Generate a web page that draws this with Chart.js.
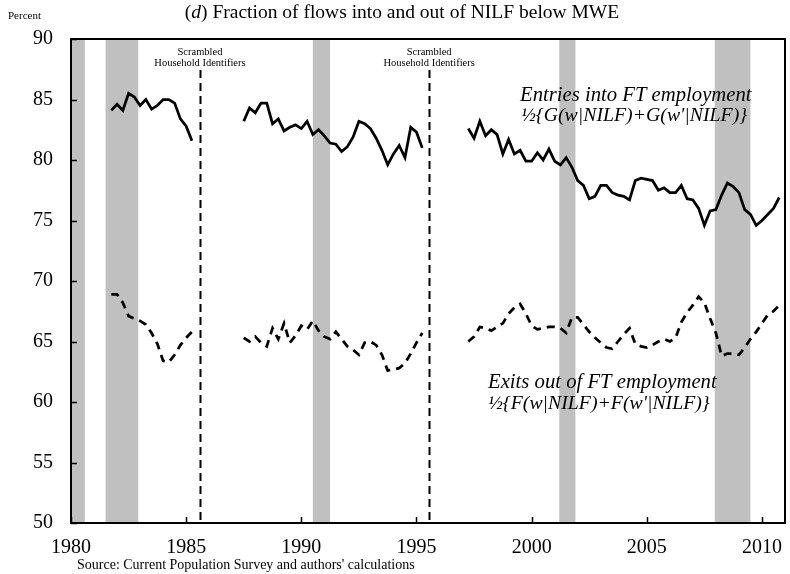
<!DOCTYPE html>
<html>
<head>
<meta charset="utf-8">
<script src="https://cdn.jsdelivr.net/npm/chart.js@4/dist/chart.umd.min.js"></script>
<style>
  html, body { margin: 0; padding: 0; background: #fff; }
  #wrap { width: 790px; height: 574px; }
</style>
</head>
<body>
<div id="wrap"><canvas id="c" width="790" height="574"></canvas></div>
<script>
// Quarterly series, three spans separated by the household-identifier breaks
const segmentStarts = [1981.75, 1987.5, 1997.25];

// Entries into FT employment, percent below MWE
const entries8185 = [84.1, 84.6, 84.1, 85.5, 85.2, 84.5, 85.0, 84.2, 84.5, 85.0, 85.0, 84.7, 83.4, 82.8, 81.6];
const entries8795 = [83.2, 84.3, 83.9, 84.7, 84.7, 83.0, 83.4, 82.4, 82.7, 82.9, 82.6, 83.2, 82.1, 82.5, 82.0, 81.4,
                     81.3, 80.7, 81.1, 81.9, 83.2, 83.0, 82.6, 81.8, 80.8, 79.6, 80.5, 81.2, 80.2, 82.7, 82.3, 81.0];
const entries9710 = [82.6, 81.8, 83.2, 82.0, 82.5, 82.1, 80.5, 81.7, 80.5, 80.8, 79.9, 79.9, 80.6, 80.0, 80.9, 79.9,
                     79.6, 80.2, 79.4, 78.3, 77.9, 76.8, 77.0, 77.9, 77.9, 77.3, 77.1, 77.0, 76.7, 78.3, 78.5, 78.4,
                     78.3, 77.5, 77.7, 77.3, 77.3, 77.9, 76.8, 76.7, 76.0, 74.6, 75.8, 75.9, 77.1, 78.1, 77.8, 77.3,
                     75.9, 75.5, 74.6, 75.0, 75.5, 76.0, 76.9];

// Exits out of FT employment, percent below MWE
const exits8185 = [68.9, 68.9, 68.2, 67.1, 66.9, 66.7, 66.4, 65.7, 64.8, 63.4, 63.3, 63.9, 64.7, 65.3, 65.8];
const exits8795 = [65.3, 65.0, 65.4, 64.9, 64.6, 66.1, 65.2, 66.5, 64.9, 65.5, 66.3, 66.0, 66.7, 65.9, 65.4, 65.2,
                   65.8, 65.2, 64.6, 64.3, 63.9, 64.9, 65.0, 64.7, 63.9, 62.6, 62.7, 62.8, 63.2, 64.0, 64.9, 65.7];
const exits9710 = [65.0, 65.4, 66.2, 66.1, 65.9, 66.2, 66.5, 67.3, 67.8, 68.1, 67.3, 66.3, 66.0, 66.1, 66.2, 66.2,
                   66.1, 65.7, 67.0, 67.0, 66.4, 65.8, 65.3, 64.9, 64.5, 64.4, 65.0, 65.6, 66.1, 64.8, 64.6, 64.5,
                   64.7, 65.0, 65.2, 65.0, 65.3, 66.6, 67.4, 68.0, 68.7, 68.2, 66.9, 65.7, 63.8, 64.0, 64.0, 63.9,
                   64.5, 65.2, 65.8, 66.5, 67.2, 67.5, 68.0];

// NBER recessions (start, end in fractional years)
const recessions = [[1980.0, 1980.6], [1981.5, 1982.92], [1990.5, 1991.25], [2001.2, 2001.9], [2007.95, 2009.5]];
// Breaks in the CPS household identifiers
const scrambleYears = [1985.6, 1995.55];

const xTicks = [1980, 1985, 1990, 1995, 2000, 2005, 2010];
const yTicks = [50, 55, 60, 65, 70, 75, 80, 85, 90];

const SERIF = '"Liberation Serif", "Times New Roman", serif';

function buildSeries(segments) {
  const pts = [];
  segments.forEach((vals, k) => {
    if (k > 0) pts.push({ x: segmentStarts[k] - 0.125, y: null });
    vals.forEach((v, i) => pts.push({ x: segmentStarts[k] + 0.25 * i, y: v }));
  });
  return pts;
}

const decorations = {
  id: 'decorations',
  beforeDatasetsDraw(chart) {
    const { ctx, chartArea: a, scales: { x } } = chart;
    ctx.save();
    ctx.fillStyle = '#c0c0c0';
    recessions.forEach(([s, e]) => {
      const x0 = x.getPixelForValue(s), x1 = x.getPixelForValue(e);
      ctx.fillRect(x0, a.top, x1 - x0, a.bottom - a.top);
    });
    // identifier breaks
    ctx.strokeStyle = '#000';
    ctx.lineWidth = 2;
    ctx.setLineDash([8, 5]);
    scrambleYears.forEach(yr => {
      const px = Math.round(x.getPixelForValue(yr)) + 0.5;
      ctx.beginPath();
      ctx.moveTo(px, 70);
      ctx.lineTo(px, a.bottom);
      ctx.stroke();
    });
    ctx.setLineDash([]);
    ctx.fillStyle = '#000';
    ctx.font = '10.5px ' + SERIF;
    ctx.textAlign = 'center';
    ctx.textBaseline = 'alphabetic';
    scrambleYears.forEach(yr => {
      const px = x.getPixelForValue(yr);
      ctx.fillText('Scrambled', px, 55);
      ctx.fillText('Household Identifiers', px, 66);
    });
    ctx.restore();
  },
  afterDraw(chart) {
    const { ctx, chartArea: a, scales: { x, y } } = chart;
    ctx.save();
    // frame
    ctx.strokeStyle = '#000';
    ctx.lineWidth = 2;
    ctx.strokeRect(a.left, a.top, a.right - a.left, a.bottom - a.top);
    // inward tick marks
    ctx.lineWidth = 1.5;
    ctx.beginPath();
    yTicks.forEach(v => {
      const py = Math.round(y.getPixelForValue(v)) + 0.5;
      ctx.moveTo(a.left, py);
      ctx.lineTo(a.left + 6, py);
    });
    xTicks.forEach(v => {
      const px = Math.round(x.getPixelForValue(v)) + 0.5;
      ctx.moveTo(px, a.bottom);
      ctx.lineTo(px, a.bottom - 6);
    });
    ctx.stroke();

    ctx.fillStyle = '#000';
    ctx.textBaseline = 'alphabetic';
    // title with italic panel letter
    const tf = '19.5px ' + SERIF, tfi = 'italic 19.5px ' + SERIF;
    ctx.font = tf;
    const p1 = '(', p3 = ') Fraction of flows into and out of NILF below MWE';
    const w1 = ctx.measureText(p1).width, w3 = ctx.measureText(p3).width;
    ctx.font = tfi;
    const w2 = ctx.measureText('d').width;
    const tx = 402 - (w1 + w2 + w3) / 2;
    ctx.textAlign = 'left';
    ctx.font = tf;
    ctx.fillText(p1, tx, 18);
    ctx.font = tfi;
    ctx.fillText('d', tx + w1, 18);
    ctx.font = tf;
    ctx.fillText(p3, tx + w1 + w2, 18);

    ctx.font = '11px ' + SERIF;
    ctx.fillText('Percent', 8, 19);

    // series annotations
    ctx.font = 'italic 20.7px ' + SERIF;
    ctx.fillText('Entries into FT employment', 520, 101);
    ctx.fillText('Exits out of FT employment', 488, 388);
    ctx.font = 'italic 19.8px ' + SERIF;
    ctx.fillText('\u00BD{G(w|NILF)+G(w\'|NILF)}', 521, 121);
    ctx.fillText('\u00BD{F(w|NILF)+F(w\'|NILF)}', 488, 409);

    ctx.font = '14px ' + SERIF;
    ctx.fillText('Source: Current Population Survey and authors\' calculations', 77, 569);
    ctx.restore();
  }
};

new Chart(document.getElementById('c'), {
  type: 'line',
  data: {
    datasets: [
      {
        label: 'Entries into FT employment',
        data: buildSeries([entries8185, entries8795, entries9710]),
        borderColor: '#000',
        borderWidth: 2.75,
        pointRadius: 0,
        tension: 0,
        spanGaps: false,
        fill: false
      },
      {
        label: 'Exits out of FT employment',
        data: buildSeries([exits8185, exits8795, exits9710]),
        borderColor: '#000',
        borderWidth: 2.75,
        borderDash: [8, 6],
        pointRadius: 0,
        tension: 0,
        spanGaps: false,
        fill: false
      }
    ]
  },
  options: {
    responsive: false,
    animation: false,
    events: [],
    layout: { padding: { top: 39, right: 5, left: 0, bottom: 0 } },
    plugins: { legend: { display: false }, tooltip: { enabled: false }, title: { display: false } },
    scales: {
      x: {
        type: 'linear',
        min: 1980,
        max: 2011,
        afterBuildTicks: s => { s.ticks = xTicks.map(v => ({ value: v })); },
        afterFit: s => { s.height = 51; s.paddingLeft = 0; s.paddingRight = 0; },
        grid: { display: false, drawTicks: false, tickLength: 0 },
        border: { display: false },
        ticks: {
          autoSkip: false, maxRotation: 0, padding: 13, color: '#000',
          font: { family: SERIF, size: 20 },
          callback: v => String(v)
        }
      },
      y: {
        min: 50,
        max: 90,
        afterBuildTicks: s => { s.ticks = yTicks.map(v => ({ value: v })); },
        afterFit: s => { s.width = 71; s.paddingTop = 0; s.paddingBottom = 0; },
        grid: { display: false, drawTicks: false, tickLength: 0 },
        border: { display: false },
        ticks: {
          padding: 18, color: '#000',
          font: { family: SERIF, size: 20 },
          callback: v => String(v)
        }
      }
    }
  },
  plugins: [decorations]
});
</script>
</body>
</html>
